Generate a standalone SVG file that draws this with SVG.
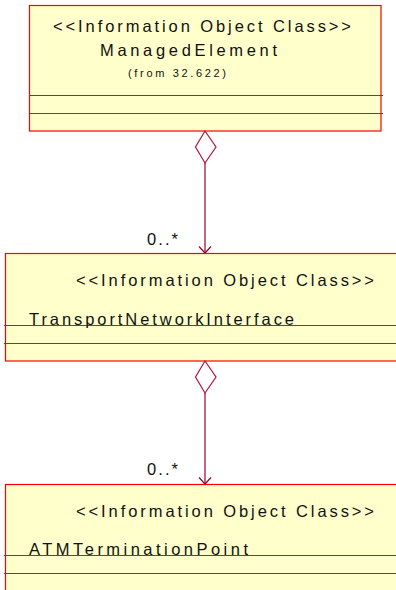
<svg xmlns="http://www.w3.org/2000/svg" width="396" height="590" viewBox="0 0 396 590">
<style>
.box{fill:#FFFFCC;stroke:#FF0000;stroke-width:1.2}
.t{font-family:"Liberation Sans",Arial,sans-serif;font-size:16.5px;fill:#111}
.s{font-family:"Liberation Sans",Arial,sans-serif;font-size:11px;fill:#111}
.ln{stroke:#990033;stroke-width:1.2;fill:none}
.dia{stroke:#B3103F;stroke-width:1.2;fill:#FFFFFF}
</style>
<rect width="396" height="590" fill="#FFFFFF"/>
<g id="ManagedElement">
<rect class="box" x="29.5" y="5.5" width="351.5" height="125.5"/>
<path d="M29.5 95.5H383M29.5 113.5H383" stroke="#FF0000" stroke-width="1.2" fill="none"/>
<text class="t" x="53" y="32" textLength="298" lengthAdjust="spacing">&lt;&lt;Information Object Class&gt;&gt;</text>
<text class="t" x="100" y="56" textLength="177" lengthAdjust="spacing">ManagedElement</text>
<text class="s" x="128" y="77" textLength="98" lengthAdjust="spacing">(from 32.622)</text>
</g>
<g id="TransportNetworkInterface">
<rect class="box" x="5.5" y="253.5" width="400" height="107.5"/>
<path d="M4 325.5H396M4 343.5H396" stroke="#FF0000" stroke-width="1.2" fill="none"/>
<text class="t" x="76" y="285.5" textLength="298" lengthAdjust="spacing">&lt;&lt;Information Object Class&gt;&gt;</text>
<text class="t" x="29" y="325" textLength="265" lengthAdjust="spacing">TransportNetworkInterface</text>
</g>
<g id="ATMTerminationPoint">
<rect class="box" x="5.5" y="484.5" width="400" height="120"/>
<path d="M4 555.5H396M4 573.5H396" stroke="#FF0000" stroke-width="1.2" fill="none"/>
<text class="t" x="76" y="516.5" textLength="298" lengthAdjust="spacing">&lt;&lt;Information Object Class&gt;&gt;</text>
<text class="t" x="29" y="554.5" textLength="219" lengthAdjust="spacing">ATMTerminationPoint</text>
</g>
<g id="connectors">
<g id="agg1">
<polygon class="dia" points="205,131 216,147 205,163 195.5,147"/>
<line class="ln" x1="205" y1="163" x2="205" y2="253"/>
<polyline class="ln" points="199,246.5 205,253 211,246.5"/>
<text class="t" x="147" y="245" textLength="31" lengthAdjust="spacing">0..*</text>
</g>
<g id="agg2">
<polygon class="dia" points="205,361 216,377 205,393 195.5,377"/>
<line class="ln" x1="205" y1="393" x2="205" y2="484"/>
<polyline class="ln" points="199,477.5 205,484 211,477.5"/>
<text class="t" x="147" y="475" textLength="31" lengthAdjust="spacing">0..*</text>
</g>
</g>
</svg>
